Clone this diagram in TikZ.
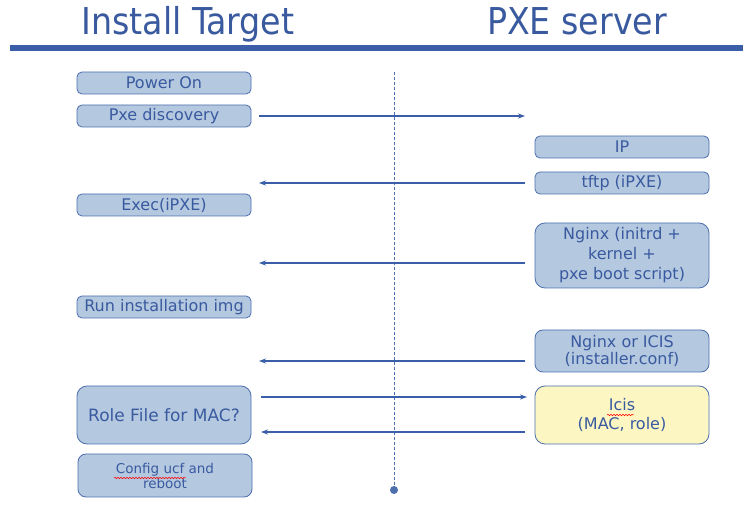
\documentclass[tikz,border=0pt]{standalone}
\usepackage{fontspec}
\setmainfont{DejaVu Sans}
\newfontfamily\condfont{DejaVu Sans Condensed}
\usetikzlibrary{arrows.meta,decorations.pathmorphing}
\definecolor{barblue}{HTML}{3A5FA8}
\definecolor{txtblue}{HTML}{3A5AA0}
\definecolor{boxfill}{HTML}{B4C8DF}
\definecolor{boxline}{HTML}{4D6FAE}
\definecolor{yelfill}{HTML}{FBF6C2}
\tikzset{
  bx/.style={draw=boxline, line width=0.8pt, fill=boxfill, rounded corners=5pt, text=txtblue, align=center, inner sep=0pt, font=\fontsize{16}{18}\selectfont},
  msg/.style={draw=barblue, line width=1.1pt, -{Stealth[length=7pt,width=5pt]}},
  wavy/.style={draw=red, line width=0.5pt, decorate, decoration={snake, amplitude=0.7pt, segment length=3pt}}
}
\begin{document}
\begin{tikzpicture}[x=1pt,y=-1pt]
\useasboundingbox (0,0) rectangle (753,510);
\fill[white] (0,0) rectangle (753,510);
% titles
\node[text=txtblue, font=\condfont\fontsize{37}{40}\selectfont, anchor=base] (t1) at (188,35) {Install Target};
\node[text=txtblue, font=\condfont\fontsize{37}{40}\selectfont, anchor=base] (t2) at (577,35) {PXE server};
\fill[barblue] (10,45) rectangle (743,51);
% lifeline
\coordinate (ltop) at (394,72);
\coordinate (lbot) at (394,490);
\draw[boxline, line width=0.6pt, dash pattern=on 3pt off 2pt] (ltop) -- (lbot);
\fill[boxline] (lbot) circle (4);
% left boxes
\node[bx, minimum width=174, minimum height=22] (pon) at (164,83) {Power On};
\node[bx, minimum width=174, minimum height=22] (pxe) at (164,116) {Pxe discovery};
\node[bx, minimum width=174, minimum height=22] (exe) at (164,205) {Exec(iPXE)};
\node[bx, minimum width=174, minimum height=22] (run) at (164,307) {Run installation img};
\node[bx, minimum width=174, minimum height=58, rounded corners=10pt, font=\fontsize{17}{19}\selectfont] (role) at (164,415) {Role File for MAC?};
\node[bx, minimum width=174, minimum height=43, rounded corners=8pt, font=\fontsize{13.5}{15}\selectfont] (cfg) at (165,475.5) {Config ucf and\\reboot};
% right boxes
\node[bx, minimum width=174, minimum height=22] (ip) at (622,147) {IP};
\node[bx, minimum width=174, minimum height=22] (tftp) at (622,183) {tftp (iPXE)};
\node[bx, minimum width=174, minimum height=65, rounded corners=10pt, font=\fontsize{16}{20}\selectfont] (ngx) at (622,255.5) {Nginx (initrd +\\kernel +\\pxe boot script)};
\node[bx, minimum width=174, minimum height=42, rounded corners=8pt, font=\fontsize{16}{17.5}\selectfont] (ngi) at (622,351) {Nginx or ICIS\\(installer.conf)};
\node[bx, fill=yelfill, minimum width=174, minimum height=58, rounded corners=10pt, font=\fontsize{16}{19}\selectfont] (icis) at (622,415) {Icis\\(MAC, role)};
% spell-check squiggles
\coordinate (sq1a) at (114,478); \coordinate (sq1b) at (186,478);
\draw[wavy] (sq1a) -- (sq1b);
\coordinate (sq2a) at (607,415); \coordinate (sq2b) at (634,415);
\draw[wavy] (sq2a) -- (sq2b);
% messages
\coordinate (a1s) at (259,116); \coordinate (a1e) at (525,116);
\draw[msg] (a1s) -- (a1e);
\coordinate (a2s) at (525,183); \coordinate (a2e) at (259,183);
\draw[msg] (a2s) -- (a2e);
\coordinate (a3s) at (525,263); \coordinate (a3e) at (259,263);
\draw[msg] (a3s) -- (a3e);
\coordinate (a4s) at (525,361); \coordinate (a4e) at (259,361);
\draw[msg] (a4s) -- (a4e);
\coordinate (a5s) at (261,397); \coordinate (a5e) at (527,397);
\draw[msg] (a5s) -- (a5e);
\coordinate (a6s) at (525,432); \coordinate (a6e) at (261,432);
\draw[msg] (a6s) -- (a6e);
\end{tikzpicture}
\end{document}
